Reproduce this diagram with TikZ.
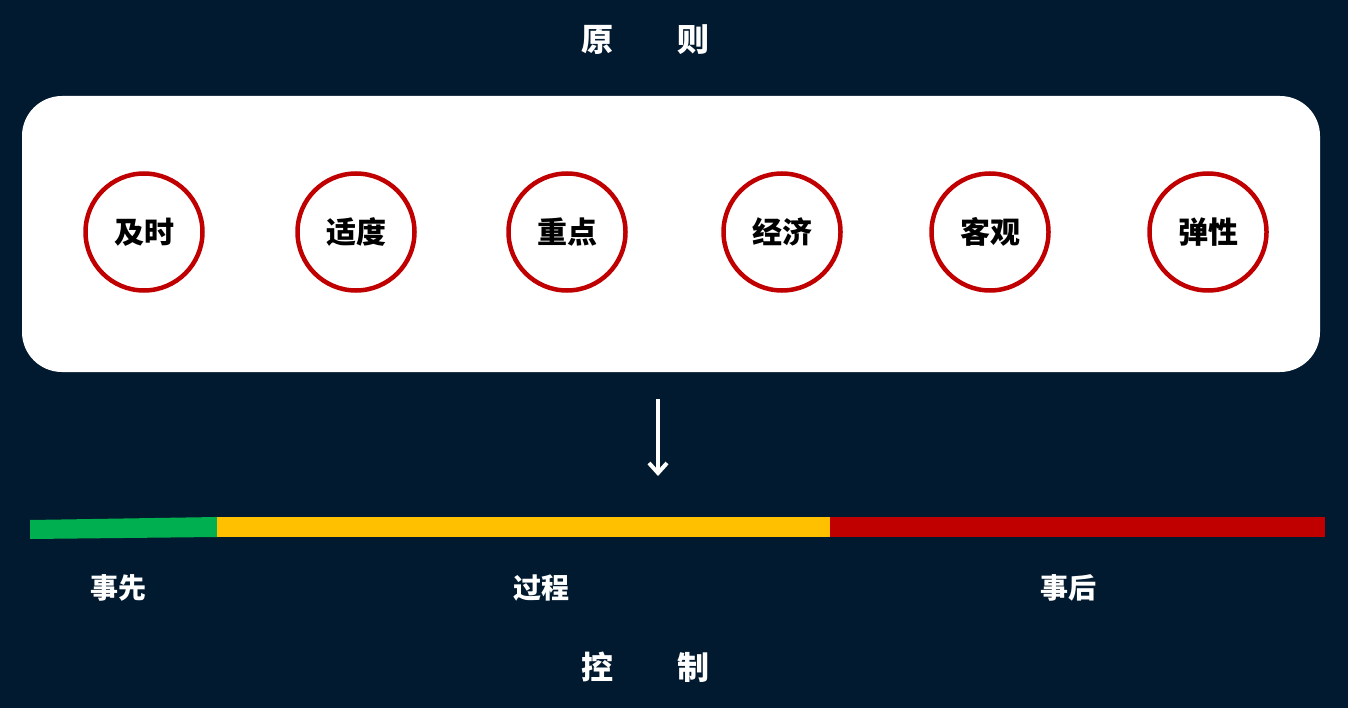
\documentclass[tikz,border=0pt]{standalone}
\usepackage{fontspec}
\newfontfamily\cjk{Noto Sans CJK SC}
\usetikzlibrary{arrows.meta}
\definecolor{bg}{HTML}{021A2F}
\definecolor{cred}{HTML}{C00000}
\definecolor{cgreen}{HTML}{00B050}
\definecolor{cyellow}{HTML}{FFC000}
\tikzset{
  ring/.style={circle,draw=cred,line width=4.5pt,fill=white,minimum size=117pt,inner sep=0pt,font=\cjk\bfseries\fontsize{30}{30}\selectfont,text=black},
  title/.style={font=\cjk\bfseries\fontsize{32}{32}\selectfont,text=white},
  lbl/.style={font=\cjk\bfseries\fontsize{28}{28}\selectfont,text=white}
}
\begin{document}
\begin{tikzpicture}[x=1pt,y=-1pt]
\fill[bg] (0,0) rectangle (1348,708);
\useasboundingbox (0,0) rectangle (1348,708);
\node[title] (t1) at (645,40) {原\hspace{2em}则};
\fill[white,rounded corners=40pt] (22,96) rectangle (1320,372);
\foreach \x/\t/\n in {144/及时/a,356/适度/b,567/重点/c,782/经济/d,990/客观/e,1208/弹性/f}
  \node[ring] (\n) at (\x,232) {\t};
\coordinate (p1) at (658,399);
\coordinate (p2) at (658,476);
\draw[white,line width=4pt,-{Straight Barb[length=10pt,width=18pt,line width=4pt]}] (p1) -- (p2);
\fill[cgreen] (30,520) -- (217,517) -- (217,537) -- (30,539) -- cycle;
\fill[cyellow] (217,517) rectangle (830,537);
\fill[cred] (830,517) rectangle (1325,537);
\node[lbl] (l1) at (118,588) {事先};
\node[lbl] (l2) at (541,588) {过程};
\node[lbl] (l3) at (1068,588) {事后};
\node[title] (t2) at (645,667) {控\hspace{2em}制};
\end{tikzpicture}
\end{document}
